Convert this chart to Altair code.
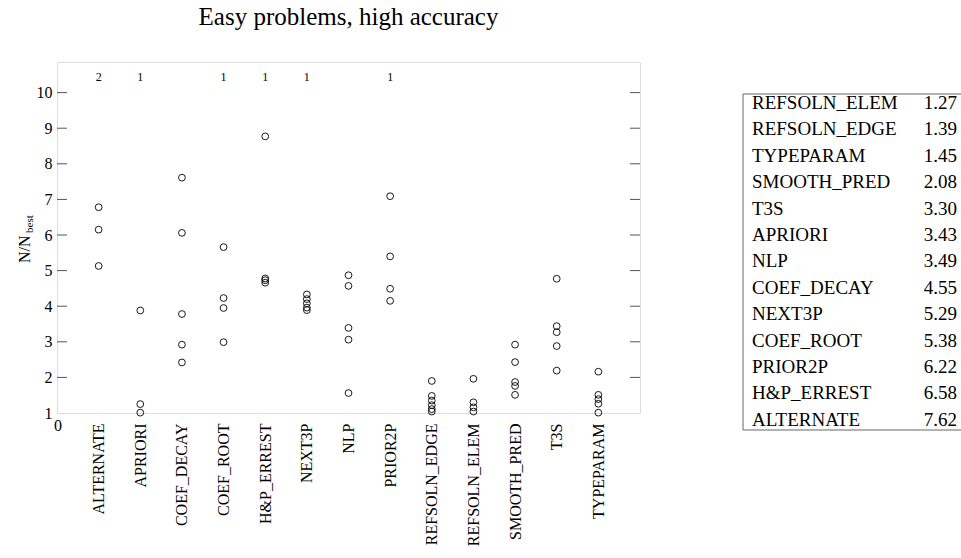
import altair as alt
import pandas as pd

# Methods along the x axis (positions 1..13)
methods = ["ALTERNATE", "APRIORI", "COEF_DECAY", "COEF_ROOT", "H&P_ERREST",
           "NEXT3P", "NLP", "PRIOR2P", "REFSOLN_EDGE", "REFSOLN_ELEM",
           "SMOOTH_PRED", "T3S", "TYPEPARAM"]

# N/N_best for each test problem, per method
ratios = {
    "ALTERNATE":    [6.78, 6.15, 5.13],
    "APRIORI":      [3.88, 1.25, 1.01],
    "COEF_DECAY":   [7.61, 6.06, 3.78, 2.92, 2.42],
    "COEF_ROOT":    [5.66, 4.23, 3.95, 2.99],
    "H&P_ERREST":   [8.77, 4.78, 4.73, 4.66],
    "NEXT3P":       [4.33, 4.20, 4.08, 3.96, 3.89],
    "NLP":          [4.87, 4.57, 3.39, 3.06, 1.56],
    "PRIOR2P":      [7.09, 5.40, 4.49, 4.15],
    "REFSOLN_EDGE": [1.90, 1.48, 1.35, 1.22, 1.11, 1.04],
    "REFSOLN_ELEM": [1.96, 1.30, 1.16, 1.04],
    "SMOOTH_PRED":  [2.92, 2.43, 1.87, 1.76, 1.51],
    "T3S":          [4.77, 3.44, 3.27, 2.88, 2.19],
    "TYPEPARAM":    [2.16, 1.51, 1.39, 1.26, 1.01],
}

# Number of problems whose ratio is above the plotted range
offscale_methods = ["ALTERNATE", "APRIORI", "COEF_ROOT", "H&P_ERREST", "NEXT3P", "PRIOR2P"]
offscale_counts = [2, 1, 1, 1, 1, 1]

# Mean ratio per method, sorted
table_names = ["REFSOLN_ELEM", "REFSOLN_EDGE", "TYPEPARAM", "SMOOTH_PRED", "T3S",
               "APRIORI", "NLP", "COEF_DECAY", "NEXT3P", "COEF_ROOT", "PRIOR2P",
               "H&P_ERREST", "ALTERNATE"]
table_values = ["1.27", "1.39", "1.45", "2.08", "3.30", "3.43", "3.49", "4.55",
                "5.29", "5.38", "6.22", "6.58", "7.62"]

y_ticks = list(range(1, 11))

TITLE = "Easy problems, high accuracy"
SERIF = "Liberation Serif"
Y_MAX = 10.86
X_MAX = 14

pos = {m: i + 1 for i, m in enumerate(methods)}
pts = pd.DataFrame([{"pos": pos[m], "ratio": v} for m in methods for v in ratios[m]])
cnt = pd.DataFrame({"pos": [pos[m] for m in offscale_methods],
                    "n": [str(c) for c in offscale_counts],
                    "ylev": [10.45] * len(offscale_methods)})
tab = pd.DataFrame({"name": table_names, "val": table_values,
                    "rank": list(range(len(table_names)))})
ticks = pd.DataFrame({"yv": y_ticks[1:], "xa": 0.0, "xb": 0.24, "xc": X_MAX - 0.24, "xd": float(X_MAX)})

label_arr = "[" + ",".join("'" + m + "'" for m in methods) + "]"

xscale = alt.Scale(domain=[0, X_MAX], nice=False, zero=False)
yscale = alt.Scale(domain=[1, Y_MAX], nice=False, zero=False)

# Same axis definition on every layer so the merged axes keep all labels
xaxis = alt.Axis(
    values=list(range(1, 14)), labelExpr=label_arr + "[datum.value - 1]",
    labelAngle=270, labelAlign="right", labelBaseline="middle",
    labelFont=SERIF, labelFontSize=16, labelColor="black", labelPadding=10,
    ticks=False, domain=False, grid=False, title=None, labelOverlap=False)
yaxis = alt.Axis(
    values=y_ticks, labelFont=SERIF, labelFontSize=16, labelColor="black",
    labelPadding=5, ticks=False, domain=False, grid=False, title=None,
    labelOverlap=False, labelBound=False, labelFlush=False)


def xq(field):
    return alt.X(field, scale=xscale, axis=xaxis)


def yq(field):
    return alt.Y(field, scale=yscale, axis=yaxis)


points = alt.Chart(pts).mark_point(
    shape="circle", filled=False, color="black", strokeWidth=0.9, size=46, opacity=1
).encode(x=xq("pos:Q"), y=yq("ratio:Q"))

left_ticks = alt.Chart(ticks).mark_rule(color="#555555", strokeWidth=1).encode(
    x=xq("xa:Q"), x2="xb:Q", y=yq("yv:Q"))
right_ticks = alt.Chart(ticks).mark_rule(color="#555555", strokeWidth=1).encode(
    x=xq("xc:Q"), x2="xd:Q", y=yq("yv:Q"))

counts = alt.Chart(cnt).mark_text(font=SERIF, fontSize=12, fill="#000000").encode(
    x=xq("pos:Q"), y=yq("ylev:Q"), text="n:N")

origin = alt.Chart(pd.DataFrame({"x0": [0], "t": ["0"]})).mark_text(
    font=SERIF, fontSize=16, color="black", baseline="top", align="center", dx=1
).encode(x=xq("x0:Q"), y=alt.value(356), text="t:N")

ytitle = alt.Chart(pd.DataFrame({"t": ["N/N"]})).mark_text(
    font=SERIF, fontSize=16, color="black", angle=270, align="left", baseline="alphabetic"
).encode(x=alt.value(-27), y=alt.value(201), text="t:N")
ysub = alt.Chart(pd.DataFrame({"t": ["best"]})).mark_text(
    font=SERIF, fontSize=11, color="black", angle=270, align="left", baseline="alphabetic"
).encode(x=alt.value(-24), y=alt.value(171), text="t:N")

heading = alt.Chart(pd.DataFrame({"t": [TITLE]})).mark_text(
    font=SERIF, fontSize=25, color="black", align="center", baseline="alphabetic"
).encode(x=alt.value(291.5), y=alt.value(-37), text="t:N")

main = alt.layer(points, left_ticks, right_ticks, counts, origin, ytitle, ysub, heading)

# Summary table to the right of the plot
tscale = alt.Scale(domain=[-1.553, 11.742], reverse=True, nice=False, zero=False)
tnames = alt.Chart(tab).mark_text(font=SERIF, fontSize=19, color="black",
                                  align="left", baseline="middle").encode(
    x=alt.value(695), y=alt.Y("rank:Q", scale=tscale, axis=None), text="name:N")
tvals = alt.Chart(tab).mark_text(font=SERIF, fontSize=19, color="black",
                                 align="right", baseline="middle").encode(
    x=alt.value(900), y=alt.Y("rank:Q", scale=tscale, axis=None), text="val:N")
box_src = pd.DataFrame({"a": [0]})
box_top = alt.Chart(box_src).mark_rule(color="#666666", strokeWidth=1).encode(
    x=alt.value(686), x2=alt.value(910), y=alt.value(32))
box_bot = alt.Chart(box_src).mark_rule(color="#666666", strokeWidth=1).encode(
    x=alt.value(686), x2=alt.value(910), y=alt.value(368))
box_left = alt.Chart(box_src).mark_rule(color="#666666", strokeWidth=1).encode(
    x=alt.value(686), y=alt.value(32), y2=alt.value(368))
table = alt.layer(tnames, tvals, box_top, box_bot, box_left)

chart = alt.layer(main, table).resolve_scale(y="independent").properties(
    width=583, height=351,
    padding={"left": 57, "top": 62, "right": 321, "bottom": 145},
    autosize=alt.AutoSizeParams(type="none"),
).configure_view(stroke="#888888", strokeWidth=1.2).configure(background="white")

chart.save("out.html", embed_options={"renderer": "svg", "actions": False})
